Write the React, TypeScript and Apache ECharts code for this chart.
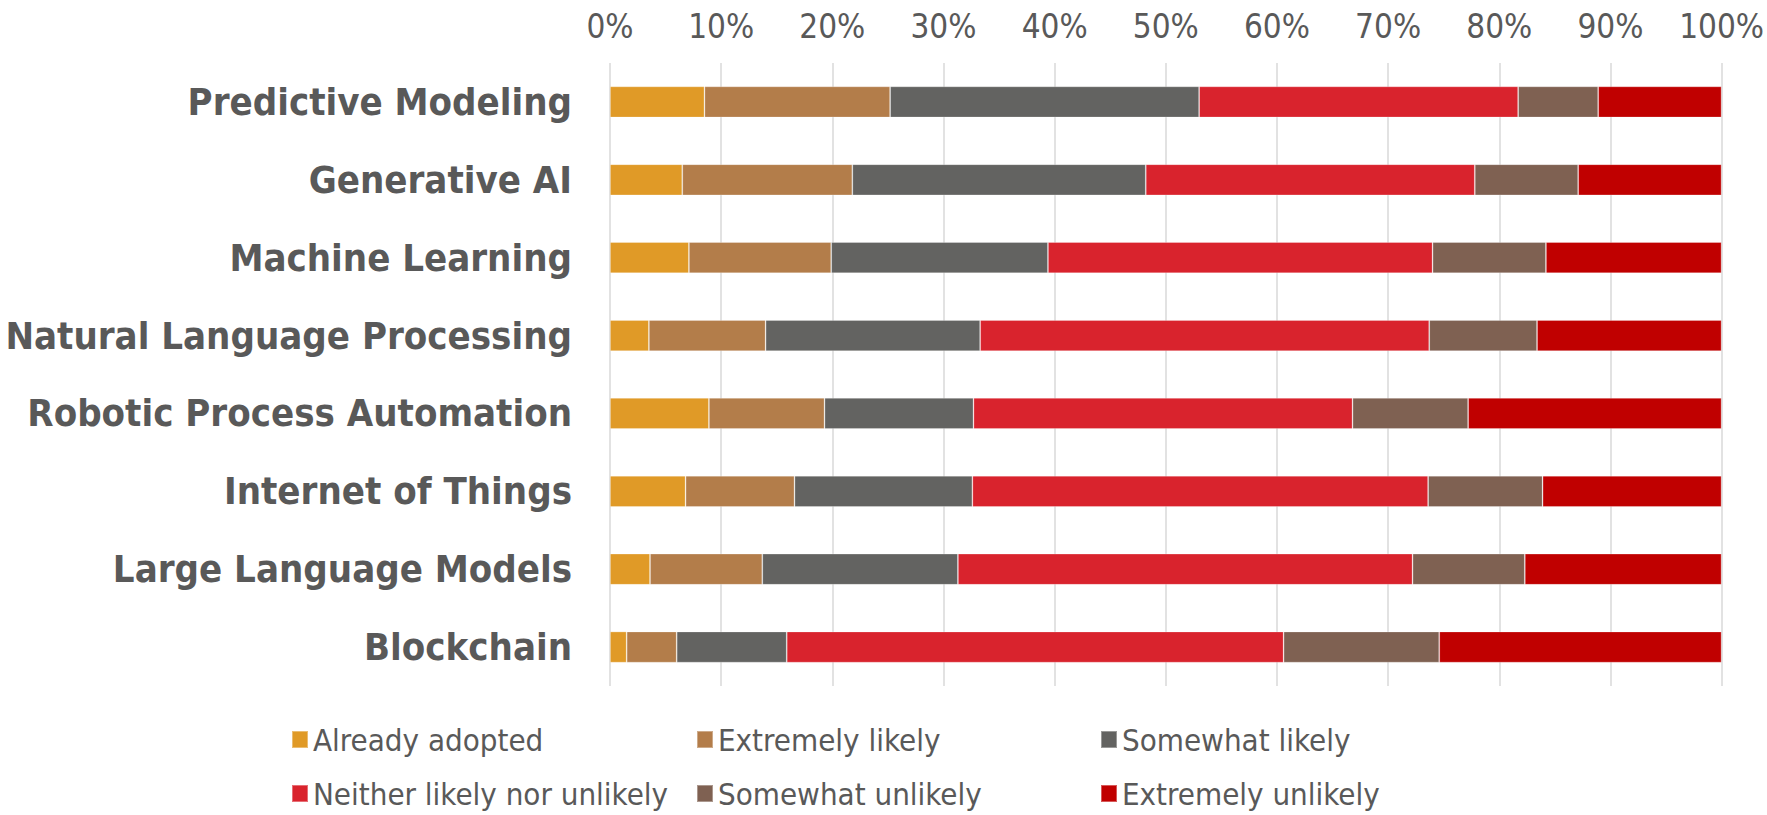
import React, { useEffect, useRef } from "react";
import * as echarts from "echarts";

const categories = [
  "Predictive Modeling",
  "Generative AI",
  "Machine Learning",
  "Natural Language Processing",
  "Robotic Process Automation",
  "Internet of Things",
  "Large Language Models",
  "Blockchain",
];

const seriesNames = [
  "Already adopted",
  "Extremely likely",
  "Somewhat likely",
  "Neither likely nor unlikely",
  "Somewhat unlikely",
  "Extremely unlikely",
];

const alreadyAdopted = [8.5, 6.5, 7.1, 3.5, 8.9, 6.8, 3.6, 1.5];
const extremelyLikely = [16.7, 15.3, 12.8, 10.5, 10.4, 9.8, 10.1, 4.5];
const somewhatLikely = [27.8, 26.4, 19.5, 19.3, 13.4, 16.0, 17.6, 9.9];
const neither = [28.7, 29.6, 34.6, 40.4, 34.1, 41.0, 40.9, 44.7];
const somewhatUnlikely = [7.2, 9.3, 10.2, 9.7, 10.4, 10.3, 10.1, 14.0];
const extremelyUnlikely = [11.1, 12.9, 15.8, 16.6, 22.8, 16.1, 17.7, 25.4];

const xTicks = [0, 10, 20, 30, 40, 50, 60, 70, 80, 90, 100];

const colors = ["#E09A27", "#B37D4A", "#636361", "#D9232D", "#7F6152", "#C00000"];

const values = [alreadyAdopted, extremelyLikely, somewhatLikely, neither, somewhatUnlikely, extremelyUnlikely];

const legendPos = [
  { left: 291, top: 724 },
  { left: 696, top: 724 },
  { left: 1100, top: 724 },
  { left: 291, top: 778 },
  { left: 696, top: 778 },
  { left: 1100, top: 778 },
];

const labelFont = "'DejaVu Sans Condensed', 'Liberation Sans Narrow', 'Noto Sans', sans-serif";
const tickFont = "'Liberation Sans Narrow', 'DejaVu Sans Condensed', 'Open Sans', sans-serif";

export default function App() {
  const ref = useRef<HTMLDivElement>(null);
  useEffect(() => {
    if (!ref.current) return;
    const chart = echarts.init(ref.current, null, { renderer: "svg" });
    chart.setOption({
      animation: false,
      backgroundColor: "#ffffff",
      grid: { left: 610, right: 42, top: 63, bottom: 129, containLabel: false },
      xAxis: {
        type: "value",
        position: "top",
        min: xTicks[0],
        max: xTicks[xTicks.length - 1],
        interval: 10,
        axisLine: { show: false },
        axisTick: { show: false },
        splitLine: { show: true, lineStyle: { color: "#d9d9d9", width: 1.5 } },
        axisLabel: {
          formatter: (v: number) => v + "%",
          color: "#595959",
          fontSize: 33,
          fontFamily: tickFont,
          margin: 20,
        },
      },
      yAxis: {
        type: "category",
        data: categories,
        inverse: true,
        axisLine: { show: false },
        axisTick: { show: false },
        axisLabel: {
          color: "#595959",
          fontSize: 38,
          fontWeight: "bold",
          fontFamily: labelFont,
          margin: 38,
        },
      },
      legend: seriesNames.map((name, i) => ({
        data: [name],
        left: legendPos[i].left,
        top: legendPos[i].top,
        padding: 0,
        itemWidth: 16,
        itemHeight: 17,
        icon: "rect",
        textStyle: { color: "#595959", fontSize: 31, fontFamily: tickFont },
      })),
      series: seriesNames.map((name, i) => ({
        name,
        type: "bar",
        stack: "total",
        data: values[i],
        barCategoryGap: "60%",
        itemStyle: { color: colors[i], borderColor: "rgba(255,255,255,0.35)", borderWidth: 0.8 },
      })),
    });
    return () => chart.dispose();
  }, []);
  return (
    <div
      ref={ref}
      style={{ position: "absolute", left: 0, top: 0, width: 1767, height: 815 }}
    />
  );
}
